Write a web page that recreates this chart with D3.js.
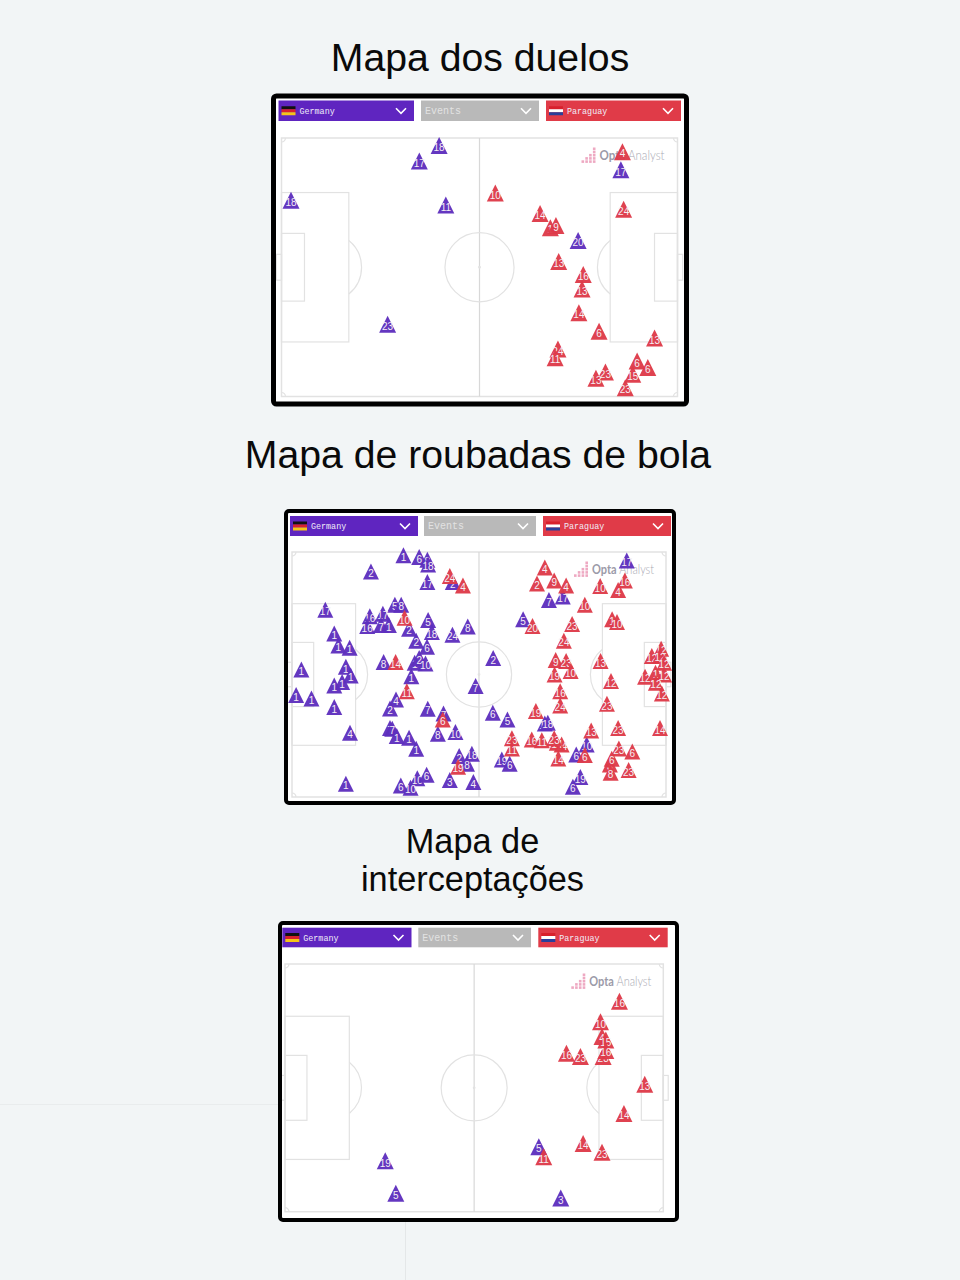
<!DOCTYPE html>
<html><head><meta charset="utf-8">
<script src="https://cdn.jsdelivr.net/npm/d3@7"></script>
<style>html,body{margin:0;padding:0;background:#f2f5f6}svg{display:block}</style>
</head><body><svg id="c" width="960" height="1280"></svg>
<script>
// Each event: [shirt number, pitch x %, pitch y %]
const duelsGermany=[[18,39.8,3.8],[17,34.8,9.8],[18,2.4,25.0],[11,41.5,26.8],[17,85.7,13.2],[20,74.9,40.6],[23,26.8,73.0]];
const duelsParaguay=[[4,86.1,6.2],[10,54.0,22.2],[14,65.3,30.1],[1,67.9,35.6],[9,69.3,34.8],[24,86.4,28.5],[13,70.0,48.7],[16,76.2,53.7],[13,75.9,59.3],[14,75.1,68.5],[6,80.2,75.7],[13,94.2,78.3],[24,69.8,82.5],[11,69.1,85.9],[6,89.8,87.2],[6,92.5,89.7],[15,88.7,92.3],[23,81.8,91.4],[13,79.4,93.9],[23,86.8,97.5]];
const tacklesGermany=[[1,29.8,2.2],[6,34.0,3.0],[8,36.2,4.1],[18,36.4,6.0],[2,21.1,8.9],[17,36.2,13.2],[2,43.0,13.2],[17,8.9,24.5],[5,27.5,22.4],[8,29.2,22.4],[16,20.8,27.1],[17,24.3,26.1],[16,20.1,31.1],[7,23.8,30.7],[1,25.9,30.7],[2,31.3,32.2],[5,36.4,28.7],[18,37.4,33.6],[24,42.9,34.7],[8,47.0,31.3],[1,11.3,34.2],[1,12.4,39.1],[1,15.4,40.0],[2,33.2,37.1],[6,36.1,39.6],[1,2.5,48.9],[1,1.1,59.3],[1,5.2,60.7],[1,11.3,64.2],[1,14.4,47.8],[1,15.7,51.3],[1,13.4,54.0],[1,11.3,55.4],[8,24.5,45.8],[1,32.8,46.1],[2,34.0,44.2],[10,35.7,46.4],[1,31.9,51.6],[4,27.8,61.1],[2,26.2,64.8],[7,36.3,64.9],[7,40.5,66.8],[8,39.0,75.1],[10,43.7,74.4],[4,15.5,74.7],[7,26.2,72.7],[7,26.8,73.1],[1,28.0,76.0],[1,31.3,76.7],[1,33.2,81.2],[1,14.4,95.5],[6,29.1,96.2],[10,33.5,93.3],[6,36.0,91.8],[10,31.7,97.1],[3,42.2,94.0],[4,48.5,94.8],[7,49.1,55.6],[18,48.1,83.3],[2,44.7,84.2],[8,46.8,87.3],[17,89.5,4.4],[17,72.4,19.1],[7,68.7,20.5],[5,61.8,28.4],[2,53.8,44.2],[18,67.6,70.9],[18,68.4,70.6],[6,53.7,66.5],[5,57.6,69.3],[19,56.1,85.6],[6,58.2,87.3],[10,78.8,79.5],[6,76.0,83.6],[19,77.1,92.7],[6,75.1,96.7]];
const tacklesParaguay=[[24,42.2,10.7],[4,45.7,14.6],[10,30.1,27.8],[14,27.7,45.8],[11,30.7,57.8],[6,40.3,69.3],[19,44.4,88.6],[4,67.6,7.2],[2,65.5,13.8],[9,70.1,12.5],[4,73.3,14.6],[10,82.4,14.8],[16,89.0,12.5],[4,87.2,16.4],[10,78.3,22.4],[20,64.3,31.1],[23,74.9,30.3],[24,72.7,37.1],[1,85.6,28.4],[10,86.9,29.5],[9,70.5,45.0],[23,73.3,45.4],[19,70.2,50.9],[10,74.5,49.5],[16,71.7,57.8],[24,71.7,63.6],[19,65.2,65.8],[13,82.5,45.4],[12,85.3,53.6],[23,84.2,62.9],[23,87.2,72.7],[14,98.4,72.8],[13,80.0,73.8],[23,58.8,76.9],[11,58.8,81.1],[16,64.1,77.4],[11,66.8,77.7],[14,72.1,79.5],[14,70.8,78.8],[23,70.1,76.9],[14,71.2,85.2],[6,78.3,83.8],[23,87.4,81.1],[6,91.0,82.3],[3,85.0,87.6],[6,85.5,85.3],[8,85.2,91.0],[23,90.0,89.9],[12,98.7,40.4],[12,96.2,43.4],[12,98.4,43.3],[12,99.5,46.1],[12,94.4,51.8],[1,97.2,50.2],[12,99.5,50.9],[12,97.3,54.3],[12,98.9,58.7]];
const interceptionsGermany=[[5,67.1,74.7],[19,26.5,80.4],[5,29.3,93.5],[3,72.9,95.4]];
const interceptionsParaguay=[[16,88.4,16.0],[10,83.4,24.3],[4,83.8,30.2],[15,84.8,31.6],[23,84.1,38.3],[16,84.8,35.9],[16,74.4,37.0],[23,78.1,38.3],[13,95.1,49.5],[14,89.6,61.3],[14,78.8,73.4],[23,83.8,77.0],[11,68.4,78.8]];
const headerLabels=["Germany","Events","Paraguay"];
const titles=[["Mapa dos duelos"],["Mapa de roubadas de bola"],["Mapa de","interceptações"]];

const PURPLE="#5e2fbd",RED="#de3a49",LINE="#e2e2e2";
const svg=d3.select("#c");
const font="'Liberation Sans',Arial,sans-serif";

svg.append("line").attr("x1",0).attr("x2",280).attr("y1",1104.5).attr("y2",1104.5).attr("stroke","#e9eced");
svg.append("line").attr("x1",405.5).attr("x2",405.5).attr("y1",1222).attr("y2",1280).attr("stroke","#e4e7e8");

const panels=[
 {title:titles[0],tx:480,ty:[71],fs:39.2,frame:[273.5,96,413,308],sw:5,bars:[[278.5,414],[421,539],[546,681]],barY:[100.5,121],pitch:[281.5,677.5,138,396.5],m:17,lw:65,lr:13,g:duelsGermany,p:duelsParaguay},
 {title:titles[1],tx:478,ty:[468],fs:39.2,frame:[286,511,388,292],sw:4,bars:[[290,418],[424,536],[543,671]],barY:[516,536],pitch:[292,666,552,797],m:16,lw:62,lr:12,g:tacklesGermany,p:tacklesParaguay},
 {title:titles[2],tx:472.5,ty:[853,891],fs:34.3,frame:[280,923,397,297],sw:4,bars:[[282.3,411.5],[418.3,531],[538.3,667.7]],barY:[927.7,947.3],pitch:[285,663.3,964,1211.7],m:17,lw:62,lr:12,g:interceptionsGermany,p:interceptionsParaguay}
];

function drawPitch(g,x,y){
  const rect=(x0,x1,y0,y1)=>g.append("rect").attr("x",x(x0)).attr("y",y(y0)).attr("width",x(x1)-x(x0)).attr("height",y(y1)-y(y0)).attr("fill","none");
  g.attr("stroke",LINE).attr("stroke-width",1.2);
  rect(0,100,0,100).attr("stroke-width",1.5);
  rect(0,17,21.1,78.9); rect(83,100,21.1,78.9);
  rect(0,5.8,36.9,63.1); rect(94.2,100,36.9,63.1);
  rect(-1.3,0,45,55); rect(100,101.3,45,55);
  g.append("line").attr("x1",x(50)).attr("x2",x(50)).attr("y1",y(0)).attr("y2",y(100)).attr("stroke","#d8d8d8");
  const r=x(8.72)-x(0);
  g.append("circle").attr("cx",x(50)).attr("cy",y(50)).attr("r",r).attr("fill","none");
  g.append("circle").attr("cx",x(50)).attr("cy",y(50)).attr("r",.8).attr("fill",LINE);
  const a=Math.acos((x(17)-x(11.5))/r);
  const arc=d3.arc().innerRadius(r).outerRadius(r);
  g.append("path").attr("fill","none").attr("transform",`translate(${x(11.5)},${y(50)})`)
    .attr("d",arc({startAngle:Math.PI/2-a,endAngle:Math.PI/2+a}));
  g.append("path").attr("fill","none").attr("transform",`translate(${x(88.5)},${y(50)})`)
    .attr("d",arc({startAngle:-Math.PI/2-a,endAngle:-Math.PI/2+a}));
  [[0,0,Math.PI/2,Math.PI],[100,0,Math.PI,Math.PI*1.5],[0,100,0,Math.PI/2],[100,100,-Math.PI/2,0]].forEach(c=>{
    const ca=d3.arc().innerRadius(4).outerRadius(4);
    g.append("path").attr("fill","none").attr("transform",`translate(${x(c[0])},${y(c[1])})`).attr("d",ca({startAngle:c[2],endAngle:c[3]}));
  });
}

function drawHeader(g,p){
  const [y0,y1]=p.barY,h=y1-y0;
  p.bars.forEach((b,i)=>{
    const col=["#5f25c0","#b9b9b9","#e03b48"][i];
    g.append("rect").attr("x",b[0]).attr("y",y0).attr("width",b[1]-b[0]).attr("height",h).attr("fill",col);
    let tx=b[0]+4;
    if(i!==1){
      const fx=b[0]+3,fw=14,fy=y0+h/2-4.5,bands=i===0?["#111","#d8202c","#f5c518"]:["#d8202c","#fff","#2a3f9a"];
      bands.forEach((c,k)=>g.append("rect").attr("x",fx).attr("y",fy+k*3).attr("width",fw).attr("height",3).attr("fill",c));
      tx=b[0]+21;
    }
    g.append("text").text(headerLabels[i]).attr("x",tx).attr("y",y0+h/2+3)
      .attr("font-family","'Liberation Mono','DejaVu Sans Mono',monospace").attr("font-size",i===1?10:8.4)
      .attr("fill",i===1?"#e2e2e2":"#f0ecf8");
    const cx=b[1]-13,cy=y0+h/2;
    g.append("path").attr("d",d3.line()([[cx-5,cy-2.5],[cx,cy+2.5],[cx+5,cy-2.5]]))
      .attr("fill","none").attr("stroke","#fff").attr("stroke-width",1.6);
  });
}

function drawLogo(g,right,cy,w){
  const t=g.append("text").attr("x",right-w).attr("y",cy+4.5)
    .attr("font-family","Lato,Inter,sans-serif").attr("font-size",13)
    .attr("textLength",w).attr("lengthAdjust","spacingAndGlyphs");
  t.append("tspan").text("Opta").attr("font-weight",700).attr("fill","#9b9aa8");
  t.append("tspan").text(" Analyst").attr("font-weight",300).attr("fill","#a9a9b3");
  const rows=[[3],[3],[2,3],[1,2,3],[0,1,2,3]];
  rows.forEach((r,ri)=>r.forEach(c=>g.append("rect").attr("x",right-w-18+c*3.8).attr("y",cy-8+ri*3.2).attr("width",2.6).attr("height",2.6).attr("fill","#eea9c2")));
}

function drawMarks(g,data,color,x,y,m){
  const tri=d=>{const p=d3.path(),cx=x(d[1]),cy=y(d[2]);p.moveTo(cx,cy-m*.64);p.lineTo(cx+m/2,cy+m*.36);p.lineTo(cx-m/2,cy+m*.36);p.closePath();return p.toString();};
  const s=g.selectAll("g").data(data).join("g");
  s.append("path").attr("d",tri).attr("fill",color).attr("fill-opacity",.96);
  s.append("text").text(d=>d[0]).attr("x",d=>x(d[1])).attr("y",d=>y(d[2])+3.4).attr("text-anchor","middle")
    .attr("font-family","'Liberation Sans',Roboto,sans-serif").attr("font-size",10).attr("fill","#f4eef4");
}

panels.forEach(p=>{
  p.title.forEach((t,i)=>svg.append("text").text(t).attr("x",p.tx).attr("y",p.ty[i]).attr("text-anchor","middle")
    .attr("font-family",font).attr("font-size",p.fs).attr("fill","#0a0a0a"));
  const f=p.frame;
  svg.append("rect").attr("x",f[0]).attr("y",f[1]).attr("width",f[2]).attr("height",f[3]).attr("rx",3).attr("fill","#fff");
  drawHeader(svg.append("g"),p);
  const x=d3.scaleLinear([0,100],[p.pitch[0],p.pitch[1]]),y=d3.scaleLinear([0,100],[p.pitch[2],p.pitch[3]]);
  drawPitch(svg.append("g"),x,y);
  drawLogo(svg.append("g"),p.pitch[1]-p.lr,p.pitch[2]+17.5,p.lw);
  drawMarks(svg.append("g"),p.g,PURPLE,x,y,p.m);
  drawMarks(svg.append("g"),p.p,RED,x,y,p.m);
  svg.append("rect").attr("x",f[0]).attr("y",f[1]).attr("width",f[2]).attr("height",f[3]).attr("rx",3)
    .attr("fill","none").attr("stroke","#000").attr("stroke-width",p.sw);
});
</script></body></html>
